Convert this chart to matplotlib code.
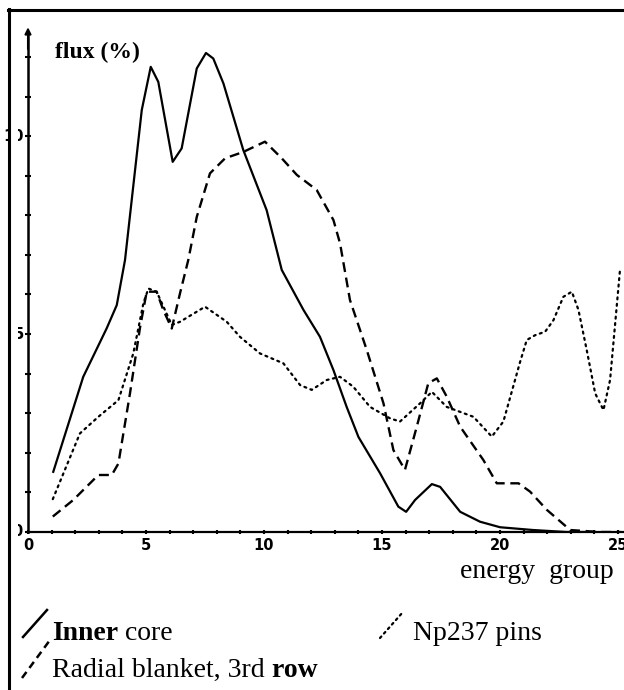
import matplotlib
matplotlib.use("Agg")
import matplotlib.pyplot as plt
from matplotlib.lines import Line2D
from matplotlib.patches import Rectangle

# values (energy group, flux %)
inner_x = [1.07, 2.34, 3.33, 3.76, 4.11, 4.82, 5.20, 5.52, 6.13, 6.51, 7.15, 7.54,
           7.85, 8.28, 9.12, 10.11, 10.75, 11.67, 12.37, 12.94, 13.50, 14.0, 14.92,
           15.69, 16.02, 16.40, 17.11, 17.46, 18.31, 19.15, 20.0, 21.4, 22.8, 24.0]
inner_y = [1.52, 3.92, 5.14, 5.73, 6.87, 10.66, 11.75, 11.37, 9.35, 9.69, 11.71, 12.10,
           11.96, 11.33, 9.65, 8.13, 6.62, 5.61, 4.93, 4.09, 3.16, 2.40, 1.48,
           0.64, 0.51, 0.81, 1.21, 1.14, 0.51, 0.26, 0.12, 0.05, 0.0, 0.0]

blanket_x = [1.05, 1.92, 2.98, 3.55, 3.83, 4.32, 4.75, 5.03, 5.45, 5.73, 6.09, 6.44,
             6.79, 7.15, 7.71, 8.35, 9.12, 10.04, 10.75, 11.39, 12.23, 12.94, 13.22,
             13.64, 14.35, 15.06, 15.48, 15.97, 16.47, 16.96, 17.32, 17.74, 18.31,
             19.29, 19.86, 20.78, 21.27, 21.98, 22.97, 24.2, 25.1]
blanket_y = [0.39, 0.81, 1.44, 1.44, 1.73, 3.50, 5.18, 6.07, 6.07, 5.61, 5.14, 6.03,
             6.87, 7.96, 9.06, 9.44, 9.60, 9.86, 9.44, 9.02, 8.64, 7.88, 7.29,
             5.86, 4.60, 3.25, 2.07, 1.57, 2.66, 3.76, 3.88, 3.42, 2.66,
             1.82, 1.23, 1.23, 1.02, 0.56, 0.05, 0.0, 0.0]

np237_x = [1.05, 2.20, 2.98, 3.83, 4.46, 4.89, 5.10, 5.45, 6.09, 6.44, 7.50, 8.42,
           8.98, 9.83, 10.82, 11.53, 12.02, 12.66, 13.22, 13.78, 14.49, 15.34, 15.76,
           16.61, 17.11, 17.74, 18.87, 19.65, 20.14, 20.85, 21.13, 21.48, 21.91,
           22.26, 22.68, 23.04, 23.32, 23.67, 24.03, 24.38, 24.66, 24.94, 25.08]
np237_y = [0.83, 2.49, 2.91, 3.33, 4.51, 5.78, 6.15, 6.07, 5.23, 5.31, 5.69, 5.31,
           4.93, 4.51, 4.26, 3.71, 3.59, 3.84, 3.92, 3.67, 3.16, 2.87, 2.79,
           3.25, 3.54, 3.16, 2.91, 2.41, 2.79, 4.30, 4.85, 4.97, 5.06,
           5.35, 5.94, 6.07, 5.61, 4.60, 3.50, 3.08, 3.84, 5.69, 6.62]

x_ticks = [0, 5, 10, 15, 20, 25]
x_ticklabels = ["0", "5", "10", "15", "20", "25"]
y_ticks = [0, 5, 10]
y_ticklabels = ["0", "5", "10"]

W, H = 624, 690


def fx(px):
    return px / W


def fy(py):
    return 1 - py / H


fig = plt.figure(figsize=(W / 100, H / 100), dpi=100)
fig.patch.set_facecolor("white")

# axes: x=0 at px 28, y=0 at px 532, top of y axis at px 32
ax = fig.add_axes([fx(28), fy(532), (W - 28) / W, 500 / H])
ax.set_xlim(0, 25.25)
ax.set_ylim(0, 12.63)
ax.patch.set_alpha(0)

for s in ["top", "right"]:
    ax.spines[s].set_visible(False)
ax.spines["left"].set_linewidth(1.8)
ax.spines["bottom"].set_linewidth(1.6)

ax.plot(inner_x, inner_y, color="black", lw=1.6, solid_joinstyle="round")
ax.plot(blanket_x, blanket_y, color="black", lw=1.7, dashes=(4.2, 2.4))
ax.plot(np237_x, np237_y, color="black", lw=1.6, dashes=(0.9, 2.0),
        dash_capstyle="round", clip_on=False)

# arrow on the y axis
ax.annotate("", xy=(0, 12.75), xytext=(0, 12.2),
            arrowprops=dict(arrowstyle="-|>", color="black", lw=1.5,
                            mutation_scale=9, shrinkA=0, shrinkB=0),
            annotation_clip=False)

ax.set_xticks(range(0, 26), minor=True)
ax.set_xticks(x_ticks)
ax.set_xticklabels(x_ticklabels)
ax.set_yticks(range(0, 13), minor=True)
ax.set_yticks(y_ticks)
ax.set_yticklabels([])
ax.tick_params(axis="x", which="both", direction="inout", length=3, width=1.5, pad=3)
ax.tick_params(axis="y", which="both", direction="inout", length=4.5, width=1.5)
for lab in ax.get_xticklabels():
    lab.set_fontweight("bold")
    lab.set_fontsize(10.5)

# y tick labels, placed by hand just left of the axis
for val, lab in zip(y_ticks, y_ticklabels):
    yy = ax.transData.transform((0, val))[1] / fig.dpi / fig.get_figheight()
    right = fx(22.5) if val == 0 else fx(24)
    fig.text(right, yy, lab, fontsize=10.5, fontweight="bold",
             ha="right", va="center")

fig.text(fx(55), fy(58), "flux (%)", fontsize=17, fontweight="bold",
         family="Liberation Serif", ha="left", va="baseline")
fig.text(fx(460), fy(578), "energy  group", fontsize=20,
         family="Liberation Serif", ha="left", va="baseline")

# legend, drawn as in the original: slanted line samples + text
serif = "Liberation Serif"
t1 = fig.text(fx(52), fy(640), "Inner", fontsize=20, fontweight="bold",
              family=serif, va="baseline")
ax.annotate(" core", xycoords=t1, xy=(1, 0), va="bottom", fontsize=20,
            family=serif, annotation_clip=False)
t2 = fig.text(fx(52), fy(677), "Radial blanket, 3rd", fontsize=20,
              family=serif, va="baseline")
ax.annotate(" row", xycoords=t2, xy=(1, 0), va="bottom", fontsize=20,
            fontweight="bold", family=serif, annotation_clip=False)
fig.text(fx(413), fy(640), "Np237 pins", fontsize=20, family=serif, va="baseline")

fig.add_artist(Line2D([fx(23), fx(47)], [fy(637), fy(610)], color="black", lw=1.8))
fig.add_artist(Line2D([fx(22), fx(50)], [fy(678), fy(640)], color="black", lw=1.8,
                      dashes=(3, 2)))
fig.add_artist(Line2D([fx(380), fx(403)], [fy(638), fy(612)], color="black", lw=1.6,
                      dashes=(0.9, 1.8), dash_capstyle="round"))

# the scan cuts off the left part of the y tick labels
fig.add_artist(Rectangle((fx(10.5), fy(545)), fx(17.6) - fx(10.5), fy(100) - fy(545),
                         transform=fig.transFigure, facecolor="white",
                         edgecolor="none", zorder=10))

# page frame (left and top edge)
fig.add_artist(Line2D([fx(9), fx(9)], [fy(9), 0], color="black", lw=2.2, zorder=11))
fig.add_artist(Line2D([fx(8), 1], [fy(10), fy(10)], color="black", lw=2.2, zorder=11))

fig.savefig("out.png", dpi=100)
